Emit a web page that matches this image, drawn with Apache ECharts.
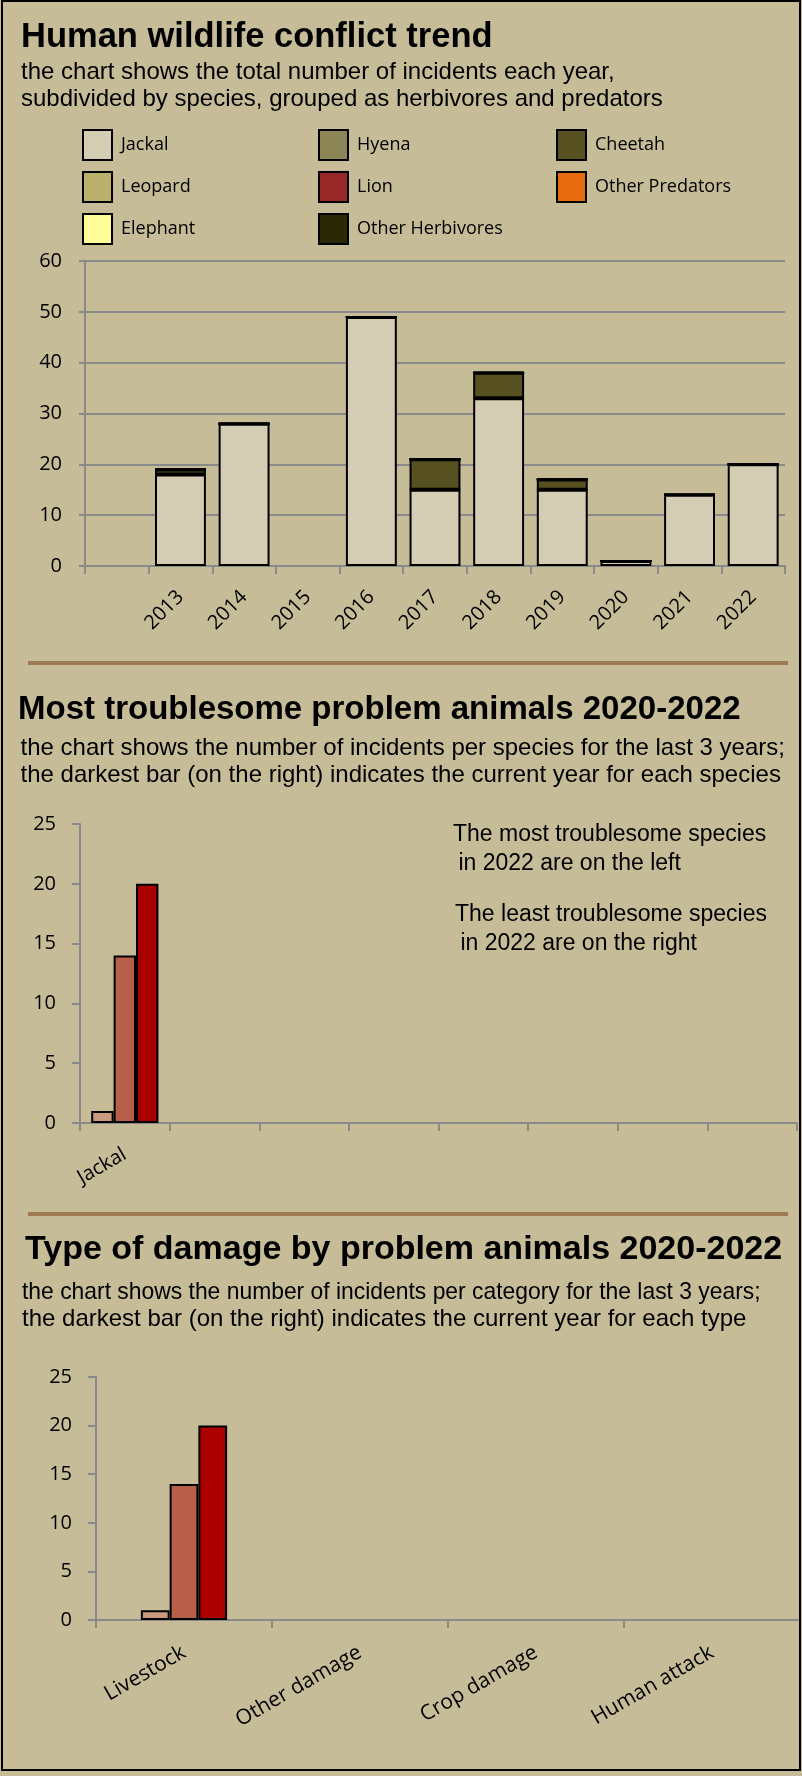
<!DOCTYPE html>
<html>
<head>
<meta charset="utf-8">
<script src="https://cdn.jsdelivr.net/npm/echarts@6/dist/echarts.min.js"></script>
<style>
html,body{margin:0;padding:0;background:#c6bd98;}
#main{width:802px;height:1776px;}
</style>
</head>
<body>
<div id="main"></div>
<script>
// ---------- data ----------
const years = ['', '2013', '2014', '2015', '2016', '2017', '2018', '2019', '2020', '2021', '2022'];
const speciesNames = ['Jackal', 'Hyena', 'Cheetah', 'Leopard', 'Lion', 'Other Predators', 'Elephant', 'Other Herbivores'];
const jackal          = [null, 18, 28, null, 49, 15, 33, 15, 1, 14, 20];
const hyena           = [null, 0, 0, null, 0, 0, 0, 0, 0, 0, 0];
const cheetah         = [null, 1, 0, null, 0, 6, 5, 2, 0, 0, 0];
const leopard         = [null, 0, 0, null, 0, 0, 0, 0, 0, 0, 0];
const lion            = [null, 0, 0, null, 0, 0, 0, 0, 0, 0, 0];
const otherPredators  = [null, 0, 0, null, 0, 0, 0, 0, 0, 0, 0];
const elephant        = [null, 0, 0, null, 0, 0, 0, 0, 0, 0, 0];
const otherHerbivores = [null, 0, 0, null, 0, 0, 0, 0, 0, 0, 0];

const yearTicks1 = [0, 60, 10];

const troubleSpecies = ['Jackal', '', '', '', '', '', '', ''];
const species2020 = [1];
const species2021 = [14];
const species2022 = [20];

const damageTypes = ['Livestock', 'Other damage', 'Crop damage', 'Human attack'];
const damage2020 = [1, null, null, null];
const damage2021 = [14, null, null, null];
const damage2022 = [20, null, null, null];

const recentYears = ['2020', '2021', '2022'];
const ticks25 = [0, 25, 5];

// ---------- styles ----------
const speciesColors = ['#d4cdb4', '#8c8556', '#575020', '#bbb06c', '#972828', '#e56b0e', '#ffff99', '#2a2806'];
const yearColors = ['#c99a80', '#b85f4c', '#aa0000'];
const axisGray = '#8a8a8a';
const lblFont = 'Open Sans';
const titleFont = '"Liberation Sans", Arial, sans-serif';

const speciesData = [jackal, hyena, cheetah, leopard, lion, otherPredators, elephant, otherHerbivores];

const chart = echarts.init(document.getElementById('main'), null, {renderer: 'canvas', width: 802, height: 1776});

// legend positions (3 columns x 3 rows)
const legCols = [82, 318, 556];
const legRows = [129, 171, 213];
const legends = speciesNames.map((n, i) => ({
  data: [n],
  left: legCols[i % 3],
  top: legRows[Math.floor(i / 3)],
  padding: 0,
  icon: 'rect',
  itemWidth: 29,
  itemHeight: 30,
  selectedMode: false,
  itemStyle: {borderColor: '#000', borderWidth: 2},
  textStyle: {fontFamily: lblFont, fontSize: 18, color: '#000', padding: [0, 0, 0, 4]}
}));

function txt(text, x, y, size, bold, extra) {
  return Object.assign({
    type: 'text',
    x: x, y: y,
    z: 10,
    style: {
      text: text,
      font: (bold ? 'bold ' : '') + size + 'px ' + titleFont,
      fill: '#000',
      verticalAlign: 'middle',
      align: 'left'
    }
  }, extra || {});
}

const catAxisBase = {
  type: 'category',
  axisLine: {lineStyle: {color: axisGray, width: 2}},
  axisTick: {show: true, interval: 0, length: 8, lineStyle: {color: axisGray, width: 2}},
  splitLine: {show: false}
};

const option = {
  backgroundColor: '#c6bd98',
  animation: false,
  legend: legends,
  grid: [
    {left: 85, right: 17, top: 261, height: 305},
    {left: 80, right: 5, top: 824, height: 299},
    {left: 96, right: 2, top: 1377, height: 243}
  ],
  xAxis: [
    Object.assign({}, catAxisBase, {
      gridIndex: 0, data: years,
      axisLabel: {interval: 0, rotate: 45, margin: 28, color: '#000', fontFamily: lblFont, fontSize: 20}
    }),
    Object.assign({}, catAxisBase, {
      gridIndex: 1, data: troubleSpecies,
      axisLabel: {interval: 0, rotate: 30, margin: 30, color: '#000', fontFamily: lblFont, fontSize: 20}
    }),
    Object.assign({}, catAxisBase, {
      gridIndex: 2, data: damageTypes,
      axisLabel: {interval: 0, rotate: 30, margin: 31, color: '#000', fontFamily: lblFont, fontSize: 21}
    })
  ],
  yAxis: [
    {
      type: 'value', gridIndex: 0, min: yearTicks1[0], max: yearTicks1[1], interval: yearTicks1[2],
      axisLine: {show: true, lineStyle: {color: axisGray, width: 2}},
      axisTick: {show: true, length: 6, lineStyle: {color: axisGray, width: 2}},
      splitLine: {show: true, lineStyle: {color: axisGray, width: 2}},
      axisLabel: {margin: 23, color: '#000', fontFamily: lblFont, fontSize: 20}
    },
    {
      type: 'value', gridIndex: 1, min: ticks25[0], max: ticks25[1], interval: ticks25[2],
      axisLine: {show: true, lineStyle: {color: axisGray, width: 2}},
      axisTick: {show: true, length: 8, lineStyle: {color: axisGray, width: 2}},
      splitLine: {show: false},
      axisLabel: {margin: 24, color: '#000', fontFamily: lblFont, fontSize: 20}
    },
    {
      type: 'value', gridIndex: 2, min: ticks25[0], max: ticks25[1], interval: ticks25[2],
      axisLine: {show: true, lineStyle: {color: axisGray, width: 2}},
      axisTick: {show: true, length: 8, lineStyle: {color: axisGray, width: 2}},
      splitLine: {show: false},
      axisLabel: {margin: 24, color: '#000', fontFamily: lblFont, fontSize: 20}
    }
  ],
  series: [].concat(
    speciesNames.map((n, i) => ({
      name: n, type: 'bar', stack: 'total', xAxisIndex: 0, yAxisIndex: 0,
      data: speciesData[i], barCategoryGap: '20%',
      itemStyle: {color: speciesColors[i], borderColor: '#000', borderWidth: 2}
    })),
    [species2020, species2021, species2022].map((d, i) => ({
      name: 'sp' + recentYears[i], type: 'bar', xAxisIndex: 1, yAxisIndex: 1,
      data: d, barGap: '0%', barCategoryGap: '25%',
      itemStyle: {color: yearColors[i], borderColor: '#000', borderWidth: 2}
    })),
    [damage2020, damage2021, damage2022].map((d, i) => ({
      name: 'dm' + recentYears[i], type: 'bar', xAxisIndex: 2, yAxisIndex: 2,
      data: d, barGap: '0%', barCategoryGap: '51%',
      itemStyle: {color: yearColors[i], borderColor: '#000', borderWidth: 2}
    }))
  ),
  graphic: [
    {type: 'rect', z: 20, shape: {x: 2, y: 1, width: 798, height: 1769}, style: {fill: 'transparent', stroke: '#000', lineWidth: 2}},
    {type: 'line', z: 5, shape: {x1: 28, y1: 663, x2: 788, y2: 663}, style: {stroke: '#9c7c50', lineWidth: 4}},
    {type: 'line', z: 5, shape: {x1: 28, y1: 1214, x2: 788, y2: 1214}, style: {stroke: '#9c7c50', lineWidth: 4}},
    txt('Human wildlife conflict trend', 21, 37.5, 34.5, true),
    txt('the chart shows the total number of incidents each year,', 21, 72.5, 24, false),
    txt('subdivided by species, grouped as herbivores and predators', 21, 99.5, 24, false),
    txt('Most troublesome problem animals 2020-2022', 18, 709.5, 33, true),
    txt('the chart shows the number of incidents per species for the last 3 years;', 20.5, 748.5, 24, false),
    txt('the darkest bar (on the right) indicates the current year for each species', 20.5, 775.5, 24, false),
    txt('The most troublesome species', 453, 835, 23, false),
    txt(' in 2022 are on the left', 452, 864, 23, false),
    txt('The least troublesome species', 455, 915, 23, false),
    txt(' in 2022 are on the right', 454, 944, 23, false),
    txt('Type of damage by problem animals 2020-2022', 25, 1250, 34, true),
    txt('the chart shows the number of incidents per category for the last 3 years;', 22, 1292.5, 24, false, {scaleX: 0.953}),
    txt('the darkest bar (on the right) indicates the current year for each type', 22, 1319.5, 24, false)
  ]
};
chart.setOption(option);
</script>
</body>
</html>
